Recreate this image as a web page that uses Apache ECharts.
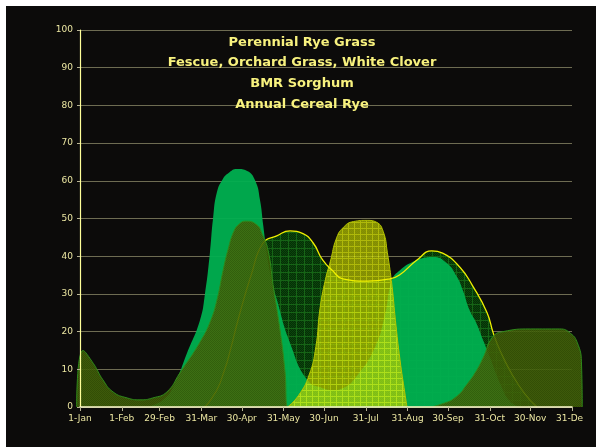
<!DOCTYPE html>
<html><head><meta charset="utf-8">
<script src="https://cdn.jsdelivr.net/npm/echarts@6/dist/echarts.min.js"></script>
<style>
html,body{margin:0;padding:0;background:#0c0b0a;width:596px;height:447px;overflow:hidden}
#c{position:absolute;left:0;top:0;width:596px;height:447px}
#top{position:absolute;left:0;top:0;width:596px;height:6px;background:#fff;z-index:5}
#left{position:absolute;left:0;top:0;width:6px;height:447px;background:#fff;z-index:5}
#right{position:absolute;left:583px;top:6px;width:13px;height:441px;background:#0c0b0a;z-index:4}
</style></head><body>
<div id="c"></div><div id="right"></div><div id="top"></div><div id="left"></div>
<script>
// ---- data ----
const titleLines = ['Perennial Rye Grass', 'Fescue, Orchard Grass, White Clover', 'BMR Sorghum', 'Annual Cereal Rye'];
const tickDays = [0, 31, 59, 90, 120, 151, 181, 212, 243, 273, 304, 334, 365];
const tickLabels = ['1-Jan','1-Feb','29-Feb','31-Mar','30-Apr','31-May','30-Jun','31-Jul','31-Aug','30-Sep','31-Oct','30-Nov','31-Dec'];

// [day of year, value]
const perennialRye = [[50,0],[62,2],[70,6],[79.4,14.3],[89,23],[92.7,30],[96.4,41],[98.7,50],[101.6,57],[106,60.5],[110,62],[116.5,63.1],[124,62.6],[130,60],[133.5,55],[136,48],[138.5,41],[142,34],[146,28.5],[155.8,17],[169,7],[180,5],[187,4.5],[195,5],[207,9],[219,16],[226,24],[231.5,33.7],[237.4,36.3],[247,38.5],[254.5,39.5],[262,39.8],[272,38.2],[279.7,34.5],[284,31],[289,25.7],[294,22.3],[299,17.8],[304,13.3],[312,6],[319,1.5],[326,0]];
const fescue = [[92.7,0],[104,6.4],[118.7,25],[127,35],[135.8,43.5],[146,45.4],[155.8,46.7],[165.4,46],[173,43.5],[180,39],[187,36.3],[195,34],[213,33.4],[230,34],[237,35],[250,39],[261,41.4],[269,40.8],[282,37],[291.5,32],[302,25],[306.6,19.6],[311.6,15],[320,9],[330,3.5],[339,0]];
const bmrSorghum = [[154,0],[162,3],[170,8.5],[175,16],[178,26],[182,33.7],[186,39],[190,44.5],[195,47.5],[203,49.2],[213,49.5],[220,49],[225,46.5],[228,41],[231.5,32],[234,23],[237.4,12.5],[241,3.7],[242.6,0]];
const cerealRye = [[-2.5,0],[2.2,15],[10,11.5],[17,7.2],[24.5,4],[35,2.4],[44.5,1.9],[54,2.4],[64.5,4],[74,9],[89,17.2],[97,23],[102,29],[106,36],[110,42],[114,46.5],[118,48.5],[123,49.3],[131.3,48.3],[135,46],[139.5,41.6],[143.2,32.5],[148.4,20.4],[152,9.8],[154.3,0],[200,0],[255,0],[270,1],[280,3],[287,6],[293,9],[299,13],[306,18.5],[314,20],[334,20.7],[356,20.7],[364,19.5],[369,17],[372,12],[372.6,0]];

// ---- patterns (each pixel painted once so alphas do not stack) ----
function pattern(size, base, alt, line) {
  const c = document.createElement('canvas');
  c.width = size; c.height = size;
  const g = c.getContext('2d');
  g.clearRect(0, 0, size, size);
  for (let y = 0; y < size; y++) {
    for (let x = 0; x < size; x++) {
      let col = base;
      if (line && (x === 0 || y === 0)) col = line;
      else if (alt && (x + y) % 2 === 0) col = alt;
      g.fillStyle = col; g.fillRect(x, y, 1, 1);
    }
  }
  return { image: c, repeat: 'repeat' };
}
const fescueFill = pattern(8, '#052e06', '#0b460c', '#166416');
const sorghumFill = pattern(6, 'rgba(193,207,0,0.70)', 'rgba(180,196,0,0.70)', 'rgba(227,240,10,0.76)');
const ryeFill = pattern(4, 'rgba(70,102,10,0.87)', 'rgba(56,86,6,0.89)', null);

// main axis: 0..365 days over x 80..572; overlay axis uses the identical scale over a wider range
const pxPerDay = 492 / 365;
const ovMin = -3, ovMax = 373;

const chart = echarts.init(document.getElementById('c'), null, { renderer: 'canvas' });
const txt = '#ece7a2';
const font = 'DejaVu Sans';
const common = { smooth: 0.5, showSymbol: false, type: 'line', xAxisIndex: 1, yAxisIndex: 2, clip: false };
chart.setOption({
  animation: false,
  backgroundColor: '#0c0b0a',
  grid: [
    { left: 80, right: 24, top: 30, bottom: 40, containLabel: false, outerBoundsMode: 'none' },
    { left: 80 + ovMin * pxPerDay, right: 596 - (80 + ovMax * pxPerDay), top: 30, bottom: 40, containLabel: false, outerBoundsMode: 'none' }
  ],
  graphic: titleLines.map((t, i) => ({
    type: 'text', x: 302, y: [43, 63, 84, 105][i], z: 100,
    style: { text: t, fill: '#f8f27e', font: 'bold 13px "DejaVu Sans"', align: 'center', verticalAlign: 'middle' }
  })),
  xAxis: [
    { type: 'value', gridIndex: 0, min: 0, max: 365, z: 10,
      axisLine: { show: true, onZero: false, lineStyle: { color: '#fffbd0', width: 1.5 } },
      axisTick: { show: true, customValues: tickDays, length: 4, lineStyle: { color: '#b8b494' } },
      axisLabel: { customValues: tickDays, formatter: v => tickLabels[tickDays.indexOf(v)], color: txt, fontFamily: font, fontSize: 9, margin: 7 },
      splitLine: { show: false } },
    { type: 'value', gridIndex: 1, min: ovMin, max: ovMax, show: false }
  ],
  yAxis: [
    { type: 'value', gridIndex: 0, min: 0, max: 100, interval: 10, z: 0,
      axisLine: { show: false }, axisTick: { show: false }, axisLabel: { show: false },
      splitLine: { show: true, lineStyle: { color: '#6e6c52', width: 1 } } },
    { type: 'value', gridIndex: 0, min: 0, max: 100, interval: 10, z: 10, position: 'left',
      axisLine: { show: true, lineStyle: { color: '#ffff99', width: 1.2 } },
      axisTick: { show: true, length: 3, lineStyle: { color: '#b8b494' } },
      axisLabel: { color: txt, fontFamily: font, fontSize: 9, margin: 7 },
      splitLine: { show: false } },
    { type: 'value', gridIndex: 1, min: 0, max: 100, show: false }
  ],
  series: [
    Object.assign({ name: titleLines[1] + ' area', data: fescue, z: 1,
      lineStyle: { width: 0 }, areaStyle: { color: fescueFill, opacity: 1 } }, common),
    Object.assign({ name: titleLines[0], data: perennialRye, z: 2,
      lineStyle: { width: 0 }, areaStyle: { color: '#00b050', opacity: 0.95 } }, common),
    Object.assign({ name: titleLines[2], data: bmrSorghum, z: 3,
      lineStyle: { color: '#b4c400', width: 1 }, areaStyle: { color: sorghumFill, opacity: 1 } }, common),
    Object.assign({ name: titleLines[1], data: fescue, z: 4,
      lineStyle: { color: '#f0f000', width: 1.3 } }, common),
    Object.assign({ name: titleLines[3], data: cerealRye, z: 5,
      lineStyle: { color: '#2f8a1a', width: 1 }, areaStyle: { color: ryeFill, opacity: 1 } }, common)
  ]
});
</script></body></html>
